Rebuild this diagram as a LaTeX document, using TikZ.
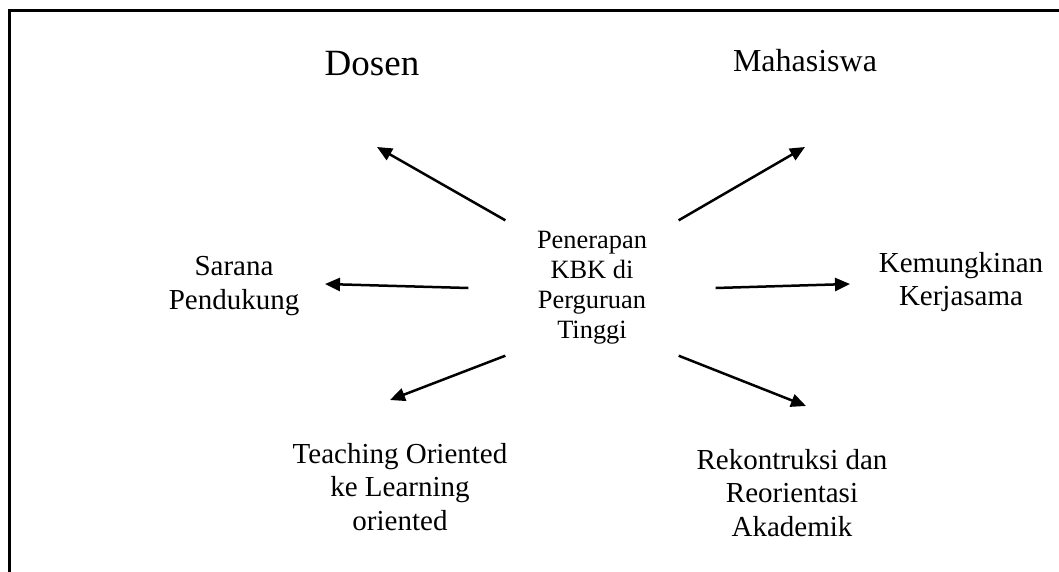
\documentclass[tikz,border=0pt]{standalone}
\usepackage{fontspec}
\setmainfont{Liberation Serif}
\usetikzlibrary{arrows.meta}

\begin{document}
\begin{tikzpicture}[
		x=1pt, y=-1pt,
		txt/.style={align=center, inner sep=0pt, font=\fontsize{29}{33.5}\selectfont},
		spoke/.style={-{Triangle[length=15pt, width=13pt]}, line width=2.5pt},
	]
		\useasboundingbox (0,0) rectangle (1059,572);
		\draw[line width=3pt] (9,572) -- (9,11) -- (1059,11);

		\node[txt, minimum width=247pt, minimum height=135pt, font=\fontsize{26.4}{30}\selectfont] (kbk) at (592,288) {Penerapan\\KBK di\\Perguruan\\Tinggi};
		\node[txt, anchor=base, font=\fontsize{37}{40}\selectfont] (dosen) at (372,76) {Dosen};
		\node[txt, anchor=base, font=\fontsize{32}{36}\selectfont] (maha) at (805,72) {Mahasiswa};
		\node[txt] (sarana) at (234,286) {Sarana\\Pendukung};
		\node[txt] (kerja) at (961,282) {Kemungkinan\\Kerjasama};
		\node[txt] (teach) at (400,487) {Teaching Oriented\\ke Learning\\oriented};
		\node[txt] (rekon) at (792,493) {Rekontruksi dan\\Reorientasi\\Akademik};

		\coordinate (dosen-end) at (377,147);
		\coordinate (maha-end) at (805,147);
		\coordinate (sarana-end) at (325,284);
		\coordinate (kerja-end) at (850,284);
		\coordinate (teach-end) at (390,400);
		\coordinate (rekon-end) at (806,406);

		\draw[spoke] (kbk.142) -- (dosen-end);
		\draw[spoke] (kbk.38) -- (maha-end);
		\draw[spoke] (kbk.west) -- (sarana-end);
		\draw[spoke] (kbk.east) -- (kerja-end);
		\draw[spoke] (kbk.218) -- (teach-end);
		\draw[spoke] (kbk.322) -- (rekon-end);
	\end{tikzpicture}
\end{document}
